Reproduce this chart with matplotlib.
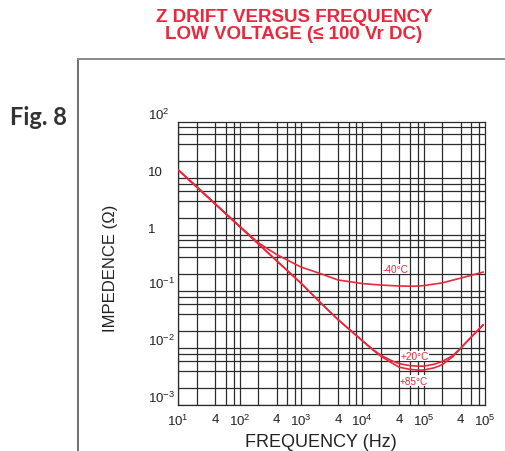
import matplotlib
matplotlib.use("Agg")
import matplotlib.pyplot as plt
from matplotlib.lines import Line2D

plt.rcParams['font.family'] = ['Liberation Sans', 'DejaVu Sans']
plt.rcParams['mathtext.fontset'] = 'custom'
plt.rcParams['mathtext.rm'] = 'Liberation Sans'
plt.rcParams['mathtext.it'] = 'Liberation Sans'
plt.rcParams['mathtext.bf'] = 'Liberation Sans:bold'

# ---- data ----
freq_m40 = [10, 20, 40, 100, 200, 400, 1000, 2000, 4000, 1e4, 2e4, 4e4, 7e4, 1e5, 2e5, 4e5, 9.3e5]
z_m40 = [14, 7.1, 3.55, 1.42, 0.73, 0.45, 0.27, 0.21, 0.16, 0.138, 0.13, 0.125, 0.124, 0.127, 0.142, 0.172, 0.22]

freq_low = [10, 20, 40, 100, 200, 400, 1000, 2000, 4000, 1e4, 1.5e4, 2e4, 3e4, 4e4, 6e4,
            8e4, 1e5, 1.5e5, 2e5, 3e5, 4e5, 6e5, 9.3e5]
z_p20 = [14, 7.0, 3.5, 1.4, 0.70, 0.35, 0.14, 0.066, 0.032, 0.0135, 0.0094, 0.0075, 0.0060,
         0.0053, 0.0049, 0.0048, 0.0048, 0.0052, 0.0058, 0.0074, 0.0100, 0.0158, 0.0256]
z_p85 = [14, 7.0, 3.5, 1.4, 0.70, 0.35, 0.14, 0.066, 0.032, 0.0135, 0.0092, 0.0072, 0.0055,
         0.0046, 0.0042, 0.0041, 0.0041, 0.0045, 0.0051, 0.0071, 0.0099, 0.0158, 0.0256]

x_ticks = [10, 40, 100, 400, 1000, 4000, 1e4, 4e4, 1e5, 4e5, 1e6]
x_ticklabels = ['$10^{1}$', '4', '$10^{2}$', '4', '$10^{3}$', '4', '$10^{4}$', '4', '$10^{5}$', '4', '$10^{5}$']
y_ticks = [1e2, 10, 1, 1e-1, 1e-2, 1e-3]
y_ticklabels = ['$10^{2}$', '10', '1', '$10^{-1}$', '$10^{-2}$', '$10^{-3}$']

curve_labels = ['-40°C', '+20°C', '+85°C']
label_freq = [3.5e4, 7.2e4, 7.0e4]
label_z = [0.25, 0.0072, 0.00265]

RED = '#e8283c'
GRID = '#2b2b2b'

fig = plt.figure(figsize=(5.05, 4.52), dpi=100)
ax = fig.add_axes([0.3531, 0.1024, 0.6073, 0.6262])
ax.set_xscale('log')
ax.set_yscale('log')
ax.set_xlim(10, 1e6)
ax.set_ylim(1e-3, 1e2)

# grid at 1,2,4,6,8 per decade
for d in range(1, 6):
    for m in (2, 4, 6, 8):
        ax.axvline(m * 10 ** d, color=GRID, lw=0.9, zorder=1)
    ax.axvline(10 ** d, color=GRID, lw=0.9, zorder=1)
for d in range(-3, 2):
    for m in (2, 4, 6, 8):
        ax.axhline(m * 10.0 ** d, color=GRID, lw=0.9, zorder=1)
    ax.axhline(10.0 ** d, color=GRID, lw=0.9, zorder=1)

for s in ax.spines.values():
    s.set_color(GRID)
    s.set_linewidth(0.9)

ax.plot(freq_m40, z_m40, color=RED, lw=1.2, zorder=3)
ax.plot(freq_low, z_p20, color=RED, lw=1.2, zorder=3)
ax.plot(freq_low, z_p85, color=RED, lw=1.2, zorder=3)

for lab, fx, zy in zip(curve_labels, label_freq, label_z):
    ax.text(fx, zy, lab, color=RED, fontsize=7.2, ha='center', va='center', zorder=4,
            bbox=dict(facecolor='white', edgecolor='none', pad=0.2))

ax.set_xticks(x_ticks)
ax.set_xticklabels(x_ticklabels, fontsize=9.5, color='#222222')
ax.set_yticks(y_ticks)
ax.set_yticklabels(y_ticklabels, fontsize=9.5, color='#222222')
ax.minorticks_off()
ax.tick_params(axis='both', length=0)
ax.tick_params(axis='x', pad=6)
ax.tick_params(axis='y', pad=21.6)
for lab in ax.get_yticklabels():
    lab.set_verticalalignment('bottom')
    lab.set_horizontalalignment('left')

ax.set_xlabel('FREQUENCY (Hz)', fontsize=13, color='#222222')
ax.xaxis.set_label_coords(0.465, -0.10)
ax.set_ylabel('IMPEDENCE (Ω)', fontsize=12, color='#222222')
ax.yaxis.set_label_coords(-0.1966, 0.485)

fig.text(0.5822, 0.962, 'Z DRIFT VERSUS FREQUENCY', color=RED, fontsize=13.5, fontweight='bold',
         ha='center', va='center')
fig.text(0.5822, 0.923, 'LOW VOLTAGE (≤ 100 Vr DC)', color=RED, fontsize=13.5, fontweight='bold',
         ha='center', va='center')

fig.text(0.0762, 0.74, 'Fig. 8', color='#333333', fontsize=17, fontweight='bold',
         family='Lato', ha='center', va='center')

# outer frame lines
fig.add_artist(Line2D([78 / 505, 78 / 505], [0, 1 - 60 / 452], transform=fig.transFigure,
                      color='#6f6f6f', lw=1.4))
fig.add_artist(Line2D([78 / 505, 1], [1 - 60 / 452, 1 - 60 / 452], transform=fig.transFigure,
                      color='#8a8a8a', lw=1.4))

fig.savefig('out.png', dpi=100)
